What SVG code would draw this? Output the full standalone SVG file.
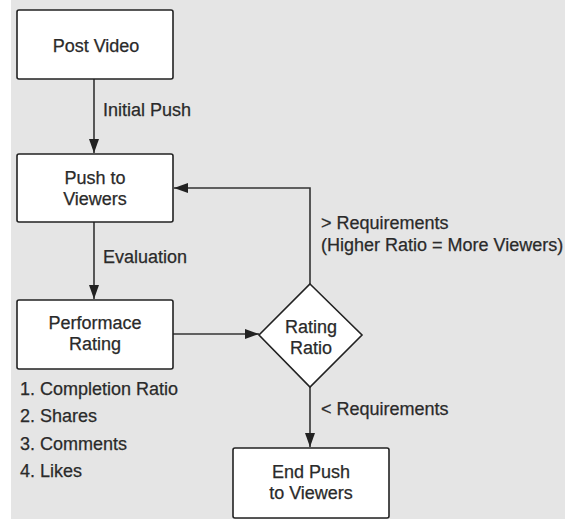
<svg xmlns="http://www.w3.org/2000/svg" width="565" height="520" viewBox="0 0 565 520">
  <defs>
    <marker id="arrow" viewBox="0 0 14 10" refX="14" refY="5" markerWidth="14" markerHeight="10" markerUnits="userSpaceOnUse" orient="auto">
      <path d="M0,0 L14,5 L0,10 Z" fill="#222"/>
    </marker>
  </defs>
  <style>
    .box { fill: #fff; stroke: #222; stroke-width: 1.6; }
    .txt { font-family: "Liberation Sans", Arial, sans-serif; font-size: 18px; fill: #2a2a2a; stroke: #2a2a2a; stroke-width: 0.25; }
    .mid { text-anchor: middle; }
    .edge { fill: none; stroke: #333; stroke-width: 1.6; }
  </style>

  <!-- canvas -->
  <rect x="0" y="0" width="565" height="520" fill="#fff"/>
  <rect x="11" y="0" width="554" height="519" fill="#e5e5e5"/>

  <g id="connectors">
    <line class="edge" x1="94" y1="79" x2="94" y2="153" marker-end="url(#arrow)"/>
    <line class="edge" x1="94" y1="222" x2="94" y2="299" marker-end="url(#arrow)"/>
    <line class="edge" x1="173" y1="334" x2="259" y2="334" marker-end="url(#arrow)"/>
    <polyline class="edge" points="310,284 310,188 174,188" marker-end="url(#arrow)"/>
    <line class="edge" x1="310" y1="387" x2="310" y2="447" marker-end="url(#arrow)"/>
    <text class="txt" x="103" y="116">Initial Push</text>
    <text class="txt" x="103" y="263">Evaluation</text>
    <text class="txt" x="321" y="229">&gt; Requirements</text>
    <text class="txt" x="321" y="251">(Higher Ratio = More Viewers)</text>
    <text class="txt" x="321" y="415">&lt; Requirements</text>
  </g>

  <g id="post-video">
    <rect class="box" x="17" y="10" width="156" height="69" rx="2"/>
    <text class="txt mid" x="96" y="52">Post Video</text>
  </g>

  <g id="push-to-viewers">
    <rect class="box" x="17" y="154" width="156" height="68" rx="2"/>
    <text class="txt mid" x="95" y="184">Push to</text>
    <text class="txt mid" x="95" y="205">Viewers</text>
  </g>

  <g id="performance-rating">
    <rect class="box" x="17" y="300" width="156" height="69" rx="2"/>
    <text class="txt mid" x="95" y="329">Performace</text>
    <text class="txt mid" x="95" y="350">Rating</text>
  </g>

  <g id="criteria">
    <text class="txt" x="20" y="395">1. Completion Ratio</text>
    <text class="txt" x="20" y="422">2. Shares</text>
    <text class="txt" x="20" y="450">3. Comments</text>
    <text class="txt" x="20" y="477">4. Likes</text>
  </g>

  <g id="rating-ratio">
    <polygon class="box" points="310,284 362,335 310,387 259,335"/>
    <text class="txt mid" x="311" y="333">Rating</text>
    <text class="txt mid" x="311" y="354">Ratio</text>
  </g>

  <g id="end-push">
    <rect class="box" x="233" y="448" width="156" height="70" rx="2"/>
    <text class="txt mid" x="311" y="478">End Push</text>
    <text class="txt mid" x="311" y="499">to Viewers</text>
  </g>
</svg>
